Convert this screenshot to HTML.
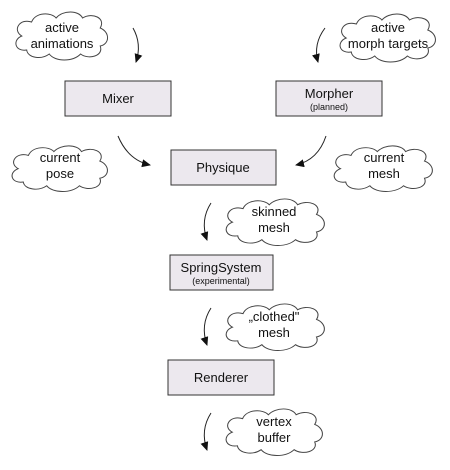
<!DOCTYPE html>
<html><head><style>
body{margin:0;background:#fff;}
svg{display:block;font-family:"Liberation Sans",sans-serif;}
.b{fill:#ece8ee;stroke:#333;stroke-width:1}
.c{fill:#fff;stroke:#444;stroke-width:1}
.a{fill:none;stroke:#222;stroke-width:1}
.t{font-size:13px;fill:#111;text-anchor:middle}
.s{font-size:9px;fill:#111;text-anchor:middle}
</style></head><body>
<svg width="450" height="470" viewBox="0 0 450 470">
<defs><marker id="m" markerWidth="10" markerHeight="10" refX="8" refY="4" orient="auto" markerUnits="userSpaceOnUse"><path d="M0,0 L9,4 L0,8 Z" fill="#111"/></marker></defs>
<!-- boxes -->
<rect class="b" x="65" y="81" width="106" height="35"/><text class="t" x="118" y="103">Mixer</text>
<rect class="b" x="276" y="81" width="106" height="35"/><text class="t" x="329" y="98">Morpher</text><text class="s" x="329" y="110">(planned)</text>
<rect class="b" x="171" y="150" width="105" height="35"/><text class="t" x="223" y="172">Physique</text>
<rect class="b" x="170" y="255" width="103" height="35"/><text class="t" x="221" y="272">SpringSystem</text><text class="s" x="221" y="284">(experimental)</text>
<rect class="b" x="168" y="360" width="106" height="35"/><text class="t" x="221" y="382">Renderer</text>
<!-- clouds -->
<g id="cl">
<path class="c" transform="translate(12,10) scale(0.98,1)" d="M15,40 C3,42 0,30 10,26 C0,20 8,8 20,12 C24,2 40,2 45,8 C52,0 68,0 72,8 C82,2 96,8 90,18 C100,22 100,34 90,36 C94,46 78,50 70,44 C62,52 44,52 38,44 C30,50 16,48 15,40 Z"/>
<path class="c" transform="translate(336,12) scale(1.02,1)" d="M15,40 C3,42 0,30 10,26 C0,20 8,8 20,12 C24,2 40,2 45,8 C52,0 68,0 72,8 C82,2 96,8 90,18 C100,22 100,34 90,36 C94,46 78,50 70,44 C62,52 44,52 38,44 C30,50 16,48 15,40 Z"/>
<path class="c" transform="translate(8,144) scale(1.02,0.95)" d="M15,40 C3,42 0,30 10,26 C0,20 8,8 20,12 C24,2 40,2 45,8 C52,0 68,0 72,8 C82,2 96,8 90,18 C100,22 100,34 90,36 C94,46 78,50 70,44 C62,52 44,52 38,44 C30,50 16,48 15,40 Z"/>
<path class="c" transform="translate(330,144) scale(1.05,0.95)" d="M15,40 C3,42 0,30 10,26 C0,20 8,8 20,12 C24,2 40,2 45,8 C52,0 68,0 72,8 C82,2 96,8 90,18 C100,22 100,34 90,36 C94,46 78,50 70,44 C62,52 44,52 38,44 C30,50 16,48 15,40 Z"/>
<path class="c" transform="translate(222,197) scale(1.05,0.97)" d="M15,40 C3,42 0,30 10,26 C0,20 8,8 20,12 C24,2 40,2 45,8 C52,0 68,0 72,8 C82,2 96,8 90,18 C100,22 100,34 90,36 C94,46 78,50 70,44 C62,52 44,52 38,44 C30,50 16,48 15,40 Z"/>
<path class="c" transform="translate(222,302) scale(1.05,0.97)" d="M15,40 C3,42 0,30 10,26 C0,20 8,8 20,12 C24,2 40,2 45,8 C52,0 68,0 72,8 C82,2 96,8 90,18 C100,22 100,34 90,36 C94,46 78,50 70,44 C62,52 44,52 38,44 C30,50 16,48 15,40 Z"/>
<path class="c" transform="translate(222,407) scale(1.03,0.97)" d="M15,40 C3,42 0,30 10,26 C0,20 8,8 20,12 C24,2 40,2 45,8 C52,0 68,0 72,8 C82,2 96,8 90,18 C100,22 100,34 90,36 C94,46 78,50 70,44 C62,52 44,52 38,44 C30,50 16,48 15,40 Z"/>
</g>
<text class="t" x="62" y="32">active</text><text class="t" x="62" y="48">animations</text>
<text class="t" x="388" y="32">active</text><text class="t" x="388" y="48">morph targets</text>
<text class="t" x="60" y="162">current</text><text class="t" x="60" y="178">pose</text>
<text class="t" x="384" y="162">current</text><text class="t" x="384" y="178">mesh</text>
<text class="t" x="274" y="216">skinned</text><text class="t" x="274" y="232">mesh</text>
<text class="t" x="274" y="321">„clothed"</text><text class="t" x="274" y="337">mesh</text>
<text class="t" x="274" y="426">vertex</text><text class="t" x="274" y="442">buffer</text>
<!-- arrows -->
<path class="a" marker-end="url(#m)" d="M133,28 Q142,44 136,62"/>
<path class="a" marker-end="url(#m)" d="M325,28 Q313,44 318,62"/>
<path class="a" marker-end="url(#m)" d="M118,136 Q128,160 150,165"/>
<path class="a" marker-end="url(#m)" d="M326,136 Q318,160 296,165"/>
<path class="a" marker-end="url(#m)" d="M211,203 Q200,220 207,240"/>
<path class="a" marker-end="url(#m)" d="M211,308 Q200,325 207,345"/>
<path class="a" marker-end="url(#m)" d="M211,413 Q200,430 207,450"/>
</svg>
</body></html>
